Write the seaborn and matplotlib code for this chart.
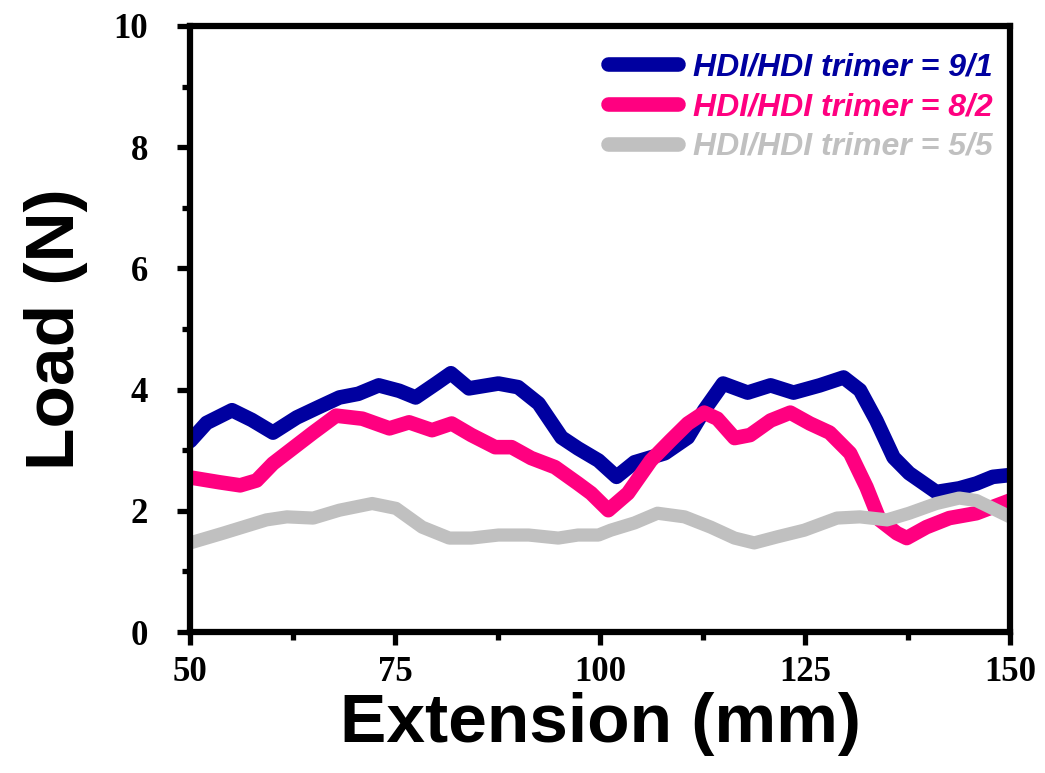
import numpy as np
import pandas as pd
import matplotlib
matplotlib.use('Agg')
import matplotlib.pyplot as plt
from matplotlib.ticker import MultipleLocator
import seaborn as sb

# values
ext_91 = [50, 52, 55.1, 57.5, 60.1, 63, 65.5, 68.2, 70.5, 73, 75.5, 77.5, 80, 81.8, 84, 87.6, 90,
          92.5, 95.3, 97.3, 99.8, 102, 104.2, 107.9, 110.7, 112.7, 115, 118, 120.8, 123.6, 126.8,
          129.7, 131.7, 133.7, 135.8, 137.7, 141, 143.8, 145.9, 147.9, 150]
load_91 = [3.15, 3.45, 3.66, 3.5, 3.29, 3.54, 3.7, 3.87, 3.93, 4.07, 3.98, 3.87, 4.1, 4.27, 4.02,
           4.1, 4.04, 3.77, 3.21, 3.03, 2.83, 2.56, 2.8, 2.95, 3.21, 3.66, 4.1, 3.95, 4.07, 3.95,
           4.07, 4.2, 3.99, 3.49, 2.88, 2.62, 2.31, 2.37, 2.45, 2.56, 2.59]

ext_82 = [50, 53.6, 56.1, 58.1, 60.1, 62.5, 65, 67.8, 71, 74.3, 76.7, 79.5, 81.9, 84.3, 87.2,
          89.2, 91.6, 94.5, 97.3, 98.9, 101, 103.4, 106.2, 108.6, 110.7, 112.7, 114.3, 116.4,
          118.3, 120.8, 123.2, 125.6, 128, 130.5, 132.5, 134.1, 136.2, 137.4, 139.8, 142.6,
          145.9, 150]
load_82 = [2.55, 2.47, 2.42, 2.5, 2.78, 3.03, 3.29, 3.57, 3.52, 3.36, 3.46, 3.33, 3.44, 3.25, 3.05,
           3.05, 2.87, 2.72, 2.45, 2.29, 2.01, 2.29, 2.83, 3.16, 3.44, 3.62, 3.52, 3.2, 3.25,
           3.49, 3.62, 3.44, 3.29, 2.95, 2.39, 1.85, 1.63, 1.55, 1.73, 1.88, 1.96, 2.17]

ext_55 = [50, 54, 59.3, 61.8, 65, 68.2, 72.2, 75.1, 78.3, 81.6, 84.3, 87.6, 91.3, 94.9, 97.3,
          99.8, 101.3, 104.2, 107, 110.3, 113.5, 116.4, 118.8, 121.6, 124.9, 128.9, 131.7, 135,
          137.7, 141, 143.8, 145.9, 150]
load_55 = [1.47, 1.63, 1.85, 1.9, 1.88, 2.01, 2.12, 2.04, 1.73, 1.55, 1.55, 1.6, 1.6, 1.55, 1.6,
           1.6, 1.68, 1.8, 1.96, 1.9, 1.73, 1.55, 1.47, 1.57, 1.68, 1.88, 1.9, 1.85, 1.96, 2.12,
           2.21, 2.17, 1.9]

labels = ['HDI/HDI trimer = 9/1', 'HDI/HDI trimer = 8/2', 'HDI/HDI trimer = 5/5']
colors = ['#0000A0', '#FF0080', '#C0C0C0']

df = pd.concat([
    pd.DataFrame({'Extension': ext_91, 'Load': load_91, 'Sample': labels[0]}),
    pd.DataFrame({'Extension': ext_82, 'Load': load_82, 'Sample': labels[1]}),
    pd.DataFrame({'Extension': ext_55, 'Load': load_55, 'Sample': labels[2]}),
], ignore_index=True)

sb.set_style('white')

fig = plt.figure(figsize=(10.45, 7.73), dpi=100)
ax = fig.add_axes([0.182, 0.1824, 0.7845, 0.784])

sb.lineplot(data=df, x='Extension', y='Load', hue='Sample', palette=colors,
            estimator=None, sort=False, linewidth=10.5, ax=ax,
            solid_capstyle='round', solid_joinstyle='round')
# grey line is drawn a touch thinner
ax.lines[2].set_linewidth(9.5)

ax.set_xlim(50, 150)
ax.set_ylim(0, 10)
ax.xaxis.set_major_locator(MultipleLocator(25))
ax.xaxis.set_minor_locator(MultipleLocator(12.5))
ax.yaxis.set_major_locator(MultipleLocator(2))
ax.yaxis.set_minor_locator(MultipleLocator(1))

for sp in ax.spines.values():
    sp.set_visible(True)
    sp.set_color('black')
    sp.set_linewidth(4.5)

ax.tick_params(which='major', direction='out', length=9.5, width=3.8, color='black', labelcolor='black')
ax.tick_params(which='minor', direction='out', length=6, width=3.8, color='black')
ax.tick_params(axis='y', which='major', pad=21)
ax.tick_params(axis='x', which='major', pad=8)
ax.tick_params(which='both', top=False, right=False, left=True, bottom=True)

for lab in ax.get_xticklabels() + ax.get_yticklabels():
    lab.set_family('Liberation Serif')
    lab.set_fontweight('bold')
    lab.set_fontsize(25)

ax.set_xlabel('Extension (mm)', family='Liberation Sans', fontweight='bold', fontsize=50,
              color='black', labelpad=2)
ax.set_ylabel('Load (N)', family='Liberation Sans', fontweight='bold', fontsize=50,
              color='black', labelpad=18)

leg = ax.legend(loc='upper right', frameon=False, handlelength=2.2, handletextpad=0.45,
                labelspacing=0.3, borderaxespad=0.15, labelcolor='linecolor',
                bbox_to_anchor=(1.0, 0.985),
                prop={'family': 'Liberation Sans', 'weight': 'bold', 'style': 'italic', 'size': 23})
for h in leg.get_lines():
    h.set_linewidth(10.5)
    h.set_solid_capstyle('round')

fig.savefig('out.png', dpi=100)
